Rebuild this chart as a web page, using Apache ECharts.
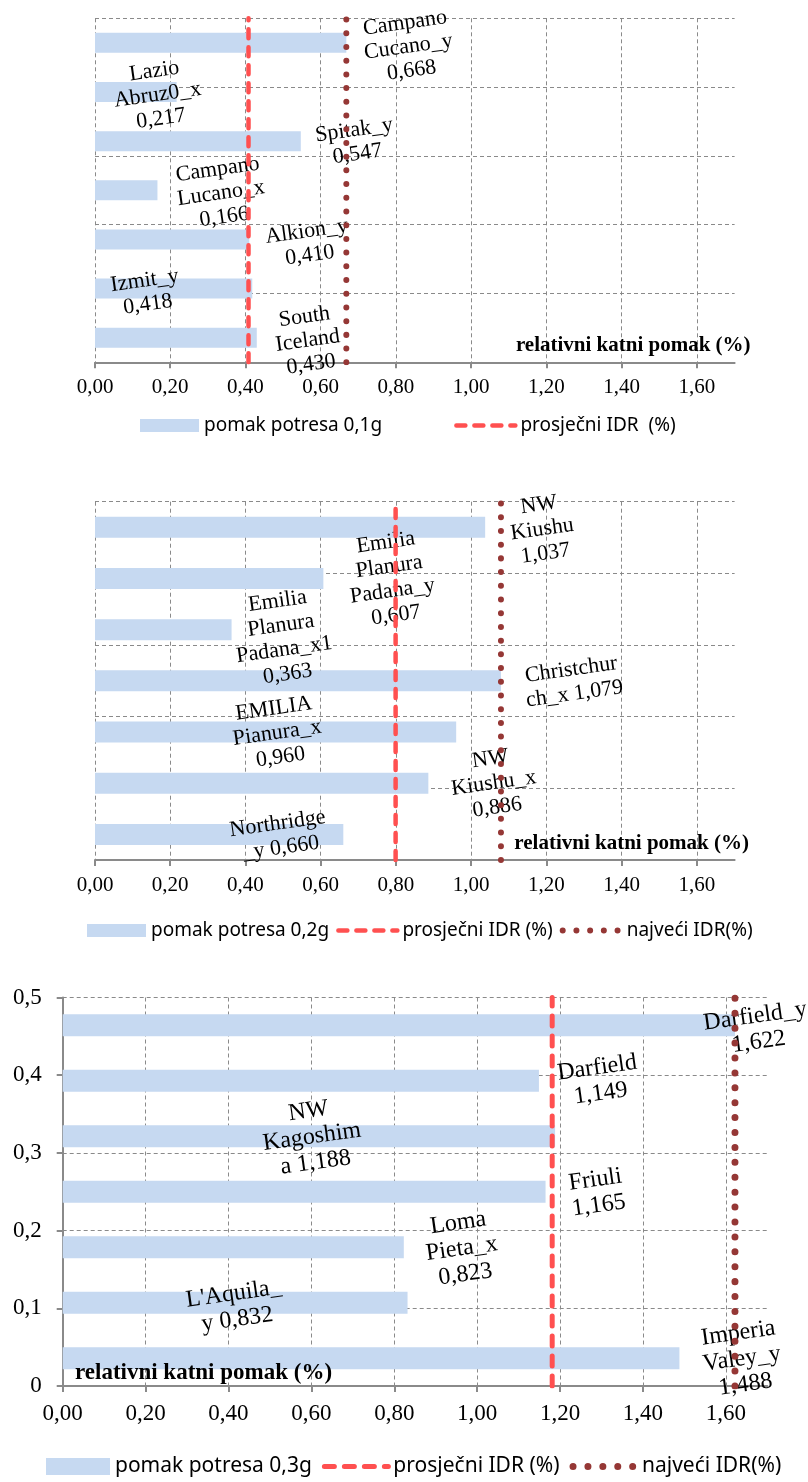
<!DOCTYPE html>
<html><head><meta charset="utf-8">
<script src="https://cdn.jsdelivr.net/npm/echarts@6/dist/echarts.min.js"></script>
<style>html,body{margin:0;padding:0;background:#fff}#c{width:808px;height:1482px}</style>
</head><body><div id="c"></div>
<script>
// ---------------- DATA ----------------
const cats1 = ['Campano Cucano_y', 'Lazio Abruz0_x', 'Spitak_y', 'Campano Lucano_x', 'Alkion_y', 'Izmit_y', 'South Iceland'];
const vals1 = [0.668, 0.217, 0.547, 0.166, 0.410, 0.418, 0.430];
const text1 = ['Campano\nCucano_y\n', 'Lazio\nAbruz0_x\n', 'Spitak_y\n', 'Campano\nLucano_x\n', 'Alkion_y\n', 'Izmit_y\n', 'South\nIceland\n'];

const cats2 = ['NW Kiushu', 'Emilia Planura Padana_y', 'Emilia Planura Padana_x1', 'Christchurch_x', 'EMILIA Pianura_x', 'NW Kiushu_x', 'Northridge_y'];
const vals2 = [1.037, 0.607, 0.363, 1.079, 0.960, 0.886, 0.660];
const text2 = ['NW\nKiushu\n', 'Emilia\nPlanura\nPadana_y\n', 'Emilia\nPlanura\nPadana_x1\n', 'Christchur\nch_x ', 'EMILIA\nPianura_x\n', 'NW\nKiushu_x\n', 'Northridge\n_y '];

const cats3 = ['Darfield_y', 'Darfield', 'NW Kagoshima', 'Friuli', 'Loma Pieta_x', "L'Aquila_y", 'Imperia Valey_y'];
const vals3 = [1.622, 1.149, 1.188, 1.165, 0.823, 0.832, 1.488];
const text3 = ['Darfield_y\n', 'Darfield\n', 'NW\nKagoshim\na ', 'Friuli\n', 'Loma\nPieta_x\n', "L'Aquila_\ny ", 'Imperia\nValey_y\n'];

const avgIDR = [0.408, 0.799, 1.181];
const maxIDR = [0.668, 1.079, 1.622];

const barNames = ['pomak potresa 0,1g', 'pomak potresa 0,2g', 'pomak potresa 0,3g'];
const avgNames = ['prosječni IDR  (%)', 'prosječni IDR (%)', 'prosječni IDR (%)'];
const maxName = 'najveći IDR(%)';
const axisTitle = 'relativni katni pomak (%)';

const xTicks = [0, 0.2, 0.4, 0.6, 0.8, 1.0, 1.2, 1.4, 1.6];
const xMin = 0, xMax = 1.7, xStep = 0.2;
const yMin = 0, yMax = 0.5, yStep = 0.1;

// ---------------- LAYOUT / STYLE ----------------
const SERIF = "'Liberation Serif', 'Times New Roman', serif";
const SANS = "'Noto Sans', 'Open Sans', sans-serif";
const BAR = '#c6d9f1', RED = '#ff5050', DOT = '#953735', GRIDC = '#8a8a8a';
const ROT = 8;

const layout = [
  { grid: { left: 95, top: 18.3, width: 639.6, height: 344 }, lblFs: 22, lblLh: 24, barW: 20, tickFs: 21, tickMargin: 15, showY: false,
    dash: { w: 4.5, d: [9, 9] }, dot: { w: 6, d: [0.01, 13.7] },
    legend: { left: 140, top: 416, gap: 72, iw: 59, ih: 13, fs: 19 },
    title: { x: 750.6, y: 345.7, align: 'right', fs: 21 },
    offs: [[62, 4], [-19, 3], [55, 1], [63.5, 3], [59, 4], [-106, 4], [51, 3]] },
  { grid: { left: 95, top: 501.7, width: 639.6, height: 358.3 }, lblFs: 22, lblLh: 24.5, barW: 21, tickFs: 21, tickMargin: 15, showY: false,
    dash: { w: 4.5, d: [9, 9] }, dot: { w: 6, d: [0.01, 13.7] },
    legend: { left: 87, top: 921, gap: 7, iw: 59, ih: 13, fs: 19 },
    title: { x: 749, y: 843.3, align: 'right', fs: 21 },
    offs: [[57, 2], [67.5, 0.5], [51, 8], [72, 1], [-179, 1], [65.5, 0], [-64, 1.5]] },
  { grid: { left: 62.7, top: 997.5, width: 704.6, height: 388.5 }, lblFs: 24, lblLh: 26, barW: 22, tickFs: 23, tickMargin: 16, showY: true,
    dash: { w: 5, d: [10, 10] }, dot: { w: 7, d: [0.01, 14.9] },
    legend: { left: 46, top: 1456, gap: 10, iw: 64, ih: 17, fs: 21 },
    title: { x: 75, y: 1373.3, align: 'left', fs: 23 },
    offs: [[22, 4], [60, 0], [-243, 0.7], [51.5, 1], [58, 1.5], [-172, 4], [62.5, 0.7]] }
];

const panels = [
  { cats: cats1, vals: vals1, text: text1, legendMax: false },
  { cats: cats2, vals: vals2, text: text2, legendMax: true },
  { cats: cats3, vals: vals3, text: text3, legendMax: true }
];

const fmt3 = v => v.toFixed(3).replace('.', ',');
const fmt2 = v => (+v).toFixed(2).replace('.', ',');
const fmt1 = v => (+v === 0 ? '0' : (+v).toFixed(1).replace('.', ','));

// label offsets are applied in the rotated frame; convert screen offsets
const th = ROT * Math.PI / 180;
const unrot = ([dx, dy]) => [dx * Math.cos(th) - dy * Math.sin(th), dx * Math.sin(th) + dy * Math.cos(th)];

const option = { animation: false, backgroundColor: '#fff', grid: [], xAxis: [], yAxis: [], series: [], legend: [], graphic: [] };

panels.forEach((p, i) => {
  const L = layout[i];
  option.grid.push(Object.assign({ containLabel: false }, L.grid));
  const axColor = { color: GRIDC, width: 2 };
  option.xAxis.push({
    type: 'value', gridIndex: i, min: xMin, max: xMax, interval: xStep,
    axisLine: { show: true, lineStyle: axColor },
    axisTick: { show: true, length: 6, lineStyle: axColor, customValues: xTicks },
    axisLabel: { fontFamily: SERIF, fontSize: L.tickFs, color: '#000', margin: L.tickMargin,
      formatter: fmt2, customValues: xTicks },
    splitLine: { show: true, lineStyle: { color: GRIDC, width: 1, type: [4, 3] } }
  });
  option.yAxis.push({ type: 'category', gridIndex: i, data: p.cats, inverse: true, show: false });
  option.yAxis.push({
    type: 'value', gridIndex: i, min: yMin, max: yMax, interval: yStep, position: 'left',
    axisLine: { show: L.showY, lineStyle: axColor },
    axisTick: { show: L.showY, length: 6, lineStyle: axColor },
    axisLabel: { show: L.showY, fontFamily: SERIF, fontSize: L.tickFs, color: '#000', margin: 21, formatter: fmt1 },
    splitLine: { show: true, showMinLine: false, lineStyle: { color: GRIDC, width: 1, type: [4, 3] } }
  });
  option.series.push({
    type: 'bar', name: barNames[i], xAxisIndex: i, yAxisIndex: 2 * i, barWidth: L.barW, z: 2,
    itemStyle: { color: BAR },
    label: {
      show: true, position: 'right', distance: 0, rotate: ROT, align: 'center', verticalAlign: 'middle',
      fontFamily: SERIF, fontSize: L.lblFs, lineHeight: L.lblLh, color: '#000',
      formatter: prm => p.text[prm.dataIndex] + fmt3(prm.value)
    },
    data: p.vals.map((v, k) => ({ value: v, label: { offset: unrot(L.offs[k]) } }))
  });
  const dashStyle = { color: RED, width: L.dash.w, type: L.dash.d, cap: 'round' };
  const dotStyle = { color: DOT, width: L.dot.w, type: L.dot.d, cap: 'round' };
  option.series.push({
    type: 'line', name: avgNames[i], xAxisIndex: i, yAxisIndex: 2 * i + 1, symbol: 'none', z: 4, silent: true,
    lineStyle: dashStyle, data: [[avgIDR[i], yMin], [avgIDR[i], yMax]]
  });
  option.series.push({
    type: 'line', name: maxName, xAxisIndex: i, yAxisIndex: 2 * i + 1, symbol: 'none', z: 4, silent: true,
    lineStyle: dotStyle, data: [[maxIDR[i], yMin], [maxIDR[i], yMax]]
  });
  const items = [
    { name: barNames[i], icon: 'rect', itemStyle: { color: BAR } },
    { name: avgNames[i], lineStyle: dashStyle, itemStyle: { opacity: 0 } }
  ];
  if (p.legendMax) items.push({ name: maxName, lineStyle: dotStyle, itemStyle: { opacity: 0 } });
  option.legend.push({
    left: L.legend.left, top: L.legend.top, padding: 0, itemGap: L.legend.gap,
    itemWidth: L.legend.iw, itemHeight: L.legend.ih, selectedMode: false,
    textStyle: { fontFamily: SANS, fontSize: L.legend.fs, color: '#000' },
    data: items
  });
  option.graphic.push({
    type: 'text', x: L.title.x, y: L.title.y, z: 10,
    style: { text: axisTitle, fontFamily: SERIF, fontWeight: 'bold', fontSize: L.title.fs, fill: '#000',
      align: L.title.align, verticalAlign: 'middle' }
  });
});

const chart = echarts.init(document.getElementById('c'), null, { renderer: 'canvas' });
chart.setOption(option);
</script>
</body></html>
